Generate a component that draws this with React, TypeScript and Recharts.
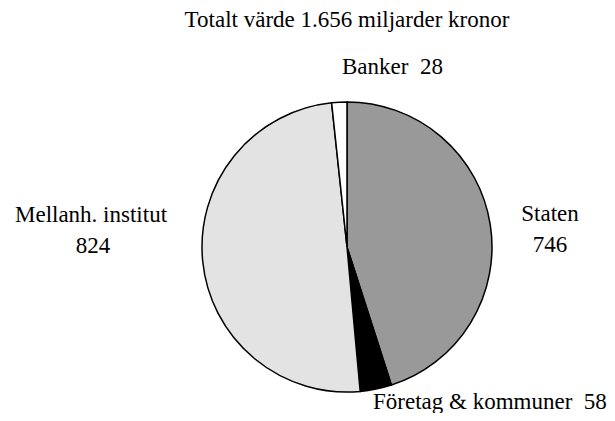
import React from 'react';
import { PieChart, Pie, Cell } from 'recharts';

const categories = ['Staten', 'Företag & kommuner', 'Mellanh. institut', 'Banker'];
const values = [746, 58, 824, 28];
const colors = ['#999999', '#000000', '#e3e3e3', '#ffffff'];
const title = 'Totalt värde 1.656 miljarder kronor';

const data = categories.map((name, i) => ({ name, value: values[i] }));

// the chart sits at the body's 8px margin, so positions are given relative to it
const OX = 8;
const OY = 8;

export default function App() {
  return (
    <div>
      <PieChart width={599} height={405}>
        <Pie
          data={data}
          dataKey="value"
          cx={342 - OX}
          cy={242 - OY}
          outerRadius={145}
          startAngle={90}
          endAngle={-270}
          stroke="#000"
          strokeWidth={1.5}
          isAnimationActive={false}
        >
          {data.map((d, i) => (
            <Cell key={d.name} fill={colors[i]} />
          ))}
        </Pie>
        <text x={347 - OX} y={27 - OY} textAnchor="middle" fontFamily="Liberation Serif" fontSize={23}>{title}</text>
        <text x={342 - OX} y={74 - OY} fontFamily="Liberation Serif" fontSize={23} xmlSpace="preserve">{data[3].name + '  ' + data[3].value}</text>
        <text x={550 - OX} y={221 - OY} textAnchor="middle" fontFamily="Liberation Serif" fontSize={23}>{data[0].name}</text>
        <text x={550 - OX} y={252 - OY} textAnchor="middle" fontFamily="Liberation Serif" fontSize={23}>{data[0].value}</text>
        <text x={91 - OX} y={222 - OY} textAnchor="middle" fontFamily="Liberation Serif" fontSize={23}>{data[2].name}</text>
        <text x={93 - OX} y={253 - OY} textAnchor="middle" fontFamily="Liberation Serif" fontSize={23}>{data[2].value}</text>
        <text x={373 - OX} y={409 - OY} fontFamily="Liberation Serif" fontSize={23} xmlSpace="preserve">{data[1].name + '  ' + data[1].value}</text>
      </PieChart>
    </div>
  );
}
